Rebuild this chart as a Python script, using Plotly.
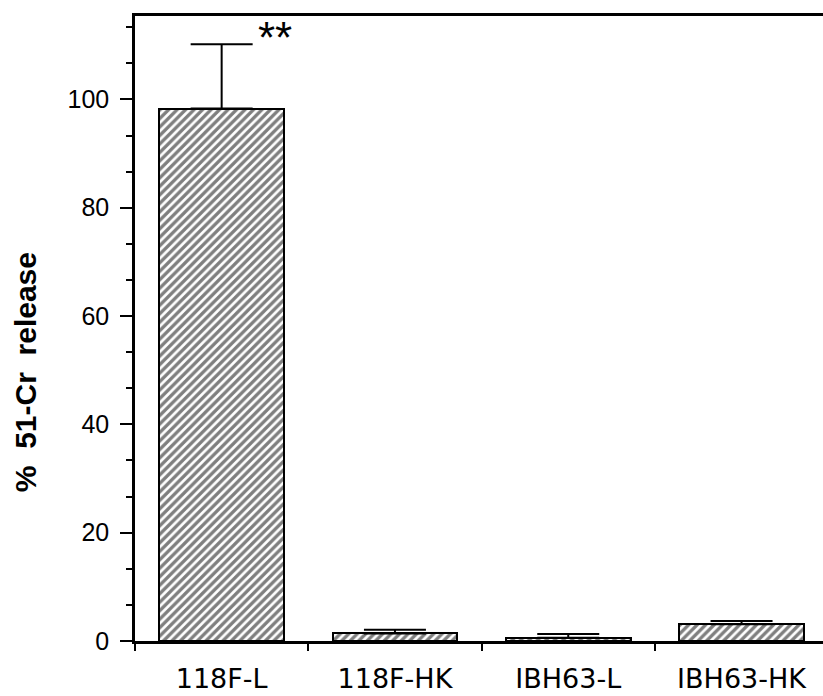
import plotly.graph_objects as go

categories = ["118F-L", "118F-HK", "IBH63-L", "IBH63-HK"]
values = [98.3, 1.4, 0.6, 3.1]
errors = [11.9, 0.7, 0.7, 0.6]
y_ticks = [0, 20, 40, 60, 80, 100]
significance = "**"
y_title = "%  51-Cr  release"

fig = go.Figure()
fig.add_trace(go.Bar(
    x=categories, y=values, width=0.72,
    marker=dict(color="white", line=dict(color="black", width=2),
                pattern=dict(shape="/", fgcolor="black", bgcolor="white", size=6, solidity=0.55)),
    error_y=dict(type="data", array=errors, arrayminus=[0]*len(errors), symmetric=False,
                 color="black", thickness=2, width=31),
    hoverinfo="skip",
))

fig.add_annotation(x=categories[0], y=values[0] + errors[0], text=significance,
                   showarrow=False, xanchor="left", yanchor="middle", xshift=34, yshift=7,
                   font=dict(family="Arial, Liberation Sans", size=44, color="black"))

fig.add_annotation(xref="paper", yref="paper", x=-0.16, y=0.43, text="<b>" + y_title + "</b>",
                   textangle=-90, showarrow=False, xanchor="center", yanchor="middle",
                   font=dict(size=30, color="black"))

fig.update_layout(
    width=823, height=696,
    margin=dict(l=135, r=0, t=16, b=55),
    plot_bgcolor="white", paper_bgcolor="white",
    showlegend=False,
    font=dict(family="Arial, Liberation Sans, sans-serif", color="black"),
    bargap=0,
)
fig.update_xaxes(
    type="category", range=[-0.5, 3.47], automargin=False,
    showline=True, linecolor="black", linewidth=2.5, mirror=True,
    ticks="outside", tickson="boundaries", ticklen=7, tickwidth=2, tickcolor="black",
    tickfont=dict(size=27, family="DejaVu Sans"), ticklabelstandoff=12, showgrid=False,
)
fig.update_yaxes(
    range=[0, 115.4], tickvals=y_ticks, automargin=False,
    showline=True, linecolor="black", linewidth=2.5, mirror=True,
    ticks="outside", ticklen=12, tickwidth=2, tickcolor="black",
    minor=dict(dtick=20/3, tick0=0, ticks="outside", ticklen=6, tickwidth=2, tickcolor="black", showgrid=False),
    tickfont=dict(size=25), ticklabelstandoff=6, showgrid=False, zeroline=False,
)

fig.write_html("out.html", config={"displayModeBar": False},
               post_script="document.body.style.margin='0';")
